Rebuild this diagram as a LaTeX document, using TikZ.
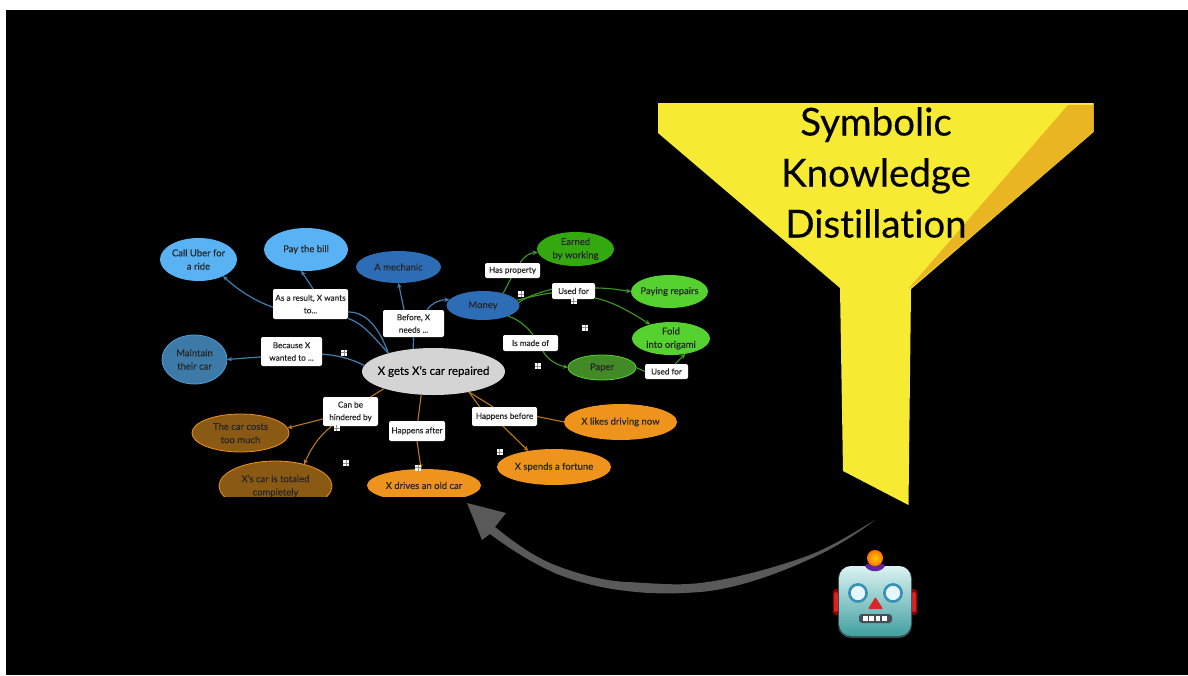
\documentclass[tikz,border=0pt]{standalone}
\usepackage{fontspec}
\setmainfont[Ligatures=NoCommon,FakeBold=0.12]{Lato}
\newfontfamily\titlefont[Ligatures=NoCommon,FakeBold=0.3]{Lato}
\usetikzlibrary{arrows.meta,shapes.geometric}
\definecolor{lblue}{HTML}{58B2F4}
\definecolor{mblue}{HTML}{2C6DB5}
\definecolor{sblue}{HTML}{3D7AA8}
\definecolor{edgeblue}{HTML}{3F7FB0}
\definecolor{dgreen}{HTML}{33A80F}
\definecolor{lgreen}{HTML}{55D22F}
\definecolor{pgreen}{HTML}{418A26}
\definecolor{edgegreen}{HTML}{3F9A24}
\definecolor{orangeA}{HTML}{EE931C}
\definecolor{brownA}{HTML}{8A5A14}
\definecolor{edgebrown}{HTML}{B87A1C}
\definecolor{funnel}{HTML}{F7EA33}
\definecolor{funnelb}{HTML}{E9B522}
\tikzset{
 x=1pt,y=-1pt,
 topic/.style={ellipse,inner sep=-20pt,outer sep=0pt,align=center,font=\fontsize{9.5}{13.3}\selectfont,text=#1},
 topic/.default=black!85,
 lab/.style={fill=white,rounded corners=2pt,align=center,inner sep=0pt,outer sep=0pt,font=\fontsize{8.2}{12.5}\selectfont,text=black!85},
 blueedge/.style={draw=edgeblue,line width=1.2pt},
 greenedge/.style={draw=edgegreen,line width=1.1pt},
 brownedge/.style={draw=edgebrown,line width=1.1pt},
 tipb/.style={-{Stealth[length=5pt,width=4.5pt]}},
 plusbox/.style={fill=white,minimum size=6pt,inner sep=0pt,path picture={\draw[black!45,line width=.45pt] (path picture bounding box.west)--(path picture bounding box.east) (path picture bounding box.north)--(path picture bounding box.south);}},
}
\begin{document}
\begin{tikzpicture}
\useasboundingbox (0,0) rectangle (1188,675);
\fill[white] (0,0) rectangle (1188,675);
\fill[black] (6,10) rectangle (1188,675);
% funnel
\fill[funnel] (658,103) -- (1093.5,103) -- (1093.5,132) -- (911,289) -- (908.5,505) -- (843,471) -- (840,288) -- (658,133) -- cycle;
\fill[funnelb] (1068,105) -- (1093.5,105) -- (1093.5,132) -- (913,286) -- (909,288) -- cycle;
\node[font=\titlefont\fontsize{38.5}{51}\selectfont,align=center,text=black,inner sep=0pt] (title) at (876,172.5) {Symbolic\\Knowledge\\Distillation};
% grey arrow
\fill[black!65] (467,503) -- (506,513) -- (495,527)
 .. controls (515,543) and (535,558) .. (560,567)
 .. controls (582,575) and (605,581) .. (627,582)
 .. controls (652,583) and (675,586) .. (700,583)
 .. controls (735,579) and (780,566) .. (810,555)
 .. controls (835,545) and (858,530) .. (875,520)
 .. controls (858,533) and (835,548) .. (810,559)
 .. controls (775,575) and (735,589) .. (700,592)
 .. controls (675,594) and (650,594) .. (627,591)
 .. controls (600,588) and (578,582) .. (557,574)
 .. controls (532,563) and (510,549) .. (490,534)
 -- (482,540) -- cycle;
% nodes
\node[fill=black!17,minimum width=143,minimum height=47,topic=black,font=\fontsize{11.5}{14}\selectfont] (root) at (433.5,371.5) {X gets X's car repaired};
\node[minimum width=77,minimum height=43,fill=lblue,topic] (uber) at (198.5,259.5) {Call Uber for\\a ride};
\node[minimum width=84,minimum height=43,fill=lblue,topic] (bill) at (306,249.5) {Pay the bill};
\node[minimum width=85,minimum height=32,fill=mblue,topic] (mech) at (398.5,267) {A mechanic};
\node[minimum width=65,minimum height=49,fill=sblue,draw=lblue!60!sblue,line width=.8pt,topic] (maint) at (194.5,359.5) {Maintain\\their car};
\node[minimum width=73,minimum height=29,fill=mblue,topic] (money) at (483,305.5) {Money};
\node[minimum width=77,minimum height=34,fill=dgreen,topic] (earned) at (575.5,249) {Earned\\by working};
\node[minimum width=77,minimum height=33,fill=lgreen,topic] (paying) at (669.5,291.5) {Paying repairs};
\node[minimum width=78,minimum height=33,fill=lgreen,topic] (fold) at (671,338.5) {Fold\\into origami};
\node[minimum width=68,minimum height=25,fill=pgreen,draw=lgreen,line width=.8pt,topic] (paper) at (602,367.5) {Paper};
\node[minimum width=113,minimum height=36,fill=orangeA,topic] (likes) at (620.5,422) {X likes driving now};
\node[minimum width=114,minimum height=36,fill=orangeA,topic] (spends) at (554,467) {X spends a fortune};
\node[minimum width=97,minimum height=38,fill=brownA,draw=orangeA,line width=.8pt,topic] (costs) at (240.5,433) {The car costs\\too much};
\begin{scope}
\clip (200,450) rectangle (500,496.5);
\node[minimum width=113,minimum height=50,fill=brownA,draw=orangeA,line width=.8pt,topic] (total) at (275.5,486) {X's car is totaled\\completely};
\node[minimum width=114,minimum height=33,fill=orangeA,topic] (old) at (424,485.5) {X drives an old car};
\end{scope}
% labels
\node[lab,minimum width=75,minimum height=30] (l1) at (310.5,304) {As a result, X wants\\to...};
\node[lab,minimum width=61,minimum height=29] (l2) at (291.5,351.5) {Because X\\wanted to ...};
\node[lab,minimum width=61,minimum height=27] (l3) at (413.5,323.5) {Before, X\\needs ...};
\node[lab,minimum width=55,minimum height=15] (l4) at (512.5,270.5) {Has property};
\node[lab,minimum width=43,minimum height=16] (l5) at (573.5,291) {Used for};
\node[lab,minimum width=55,minimum height=16] (l6) at (530.5,343) {Is made of};
\node[lab,minimum width=43,minimum height=15] (l7) at (666.5,371.5) {Used for};
\node[lab,minimum width=55,minimum height=29] (l8) at (350.5,411.5) {Can be\\hindered by};
\node[lab,minimum width=56,minimum height=20] (l9) at (417,431) {Happens after};
\node[lab,minimum width=65,minimum height=19] (l10) at (504.5,416.5) {Happens before};
% edges
\draw[blueedge] (root.158) .. controls (378,325) and (365,312) .. (l1.-12);
\draw[blueedge] (root.158) .. controls (372,335) and (362,323) .. (l1.-21.5);
\draw[blueedge,tipb] (l1.185) .. controls (255,301) and (238,290) .. (uber.-34);
\draw[blueedge,tipb] (l1.80) -- (bill.257);
\draw[blueedge] (root.175) .. controls (350,358) and (335,355) .. (l2.-5);
\draw[blueedge,tipb] (l2.190) -- (maint.east);
\draw[blueedge] (root.132) -- (l3.south);
\draw[blueedge,tipb] (l3.125) -- (mech.south);
\draw[blueedge,tipb] (l3.45) .. controls (432,303) and (438,300) .. (money.170);
\draw[greenedge] (money.31) -- (l4.-100);
\draw[greenedge,tipb] (l4.45) .. controls (524,256) and (530,253) .. (earned.185);
\draw[greenedge] (money.9) .. controls (530,297) and (542,294) .. (l5.185);
\draw[greenedge] (money.5) .. controls (530,295) and (542,292) .. (l5.175);
\draw[greenedge,tipb] (l5.8) .. controls (610,288) and (620,290) .. (paying.west);
\draw[greenedge,tipb] (l5.-18) .. controls (615,302) and (635,315) .. (fold.146);
\draw[greenedge] (money.-23) .. controls (520,320) and (528,328) .. (l6.72);
\draw[greenedge,tipb] (l6.-33) .. controls (548,360) and (557,365) .. (paper.west);
\draw[greenedge] (paper.east) -- (l7.west);
\draw[greenedge,tipb] (l7.41) -- (fold.-47.5);
\draw[brownedge] (root.-161) -- (l8.36.6);
\draw[brownedge,tipb] (l8.195) -- (costs.6);
\draw[brownedge,tipb] (l8.218) .. controls (320,435) and (311,448) .. (total.37);
\draw[brownedge] (root.242) -- (l9.85);
\draw[brownedge,tipb] (l9.south) -- (old.100);
\draw[brownedge] (root.-30) -- (l10.140);
\draw[brownedge] (root.-30) -- (l10.159);
\draw[brownedge] (l10.east) -- (likes.west);
\draw[brownedge,tipb] (l10.-100) -- (spends.148);
% plus boxes
\node[plusbox] (p1) at (344,352.5) {};
\node[plusbox] (p2) at (521,294) {};
\node[plusbox] (p3) at (573.5,301) {};
\node[plusbox] (p4) at (585,327.5) {};
\node[plusbox] (p5) at (537.5,366) {};
\node[plusbox] (p6) at (336.5,428) {};
\node[plusbox] (p7) at (346,463) {};
\node[plusbox] (p8) at (418,467.5) {};
\node[plusbox] (p9) at (499.5,452) {};
% robot
\fill[red!55!black,rounded corners=3pt] (833,589) rectangle (845,615);
\fill[red!55!black,rounded corners=3pt] (905,589) rectangle (917,615);
\fill[red!75!gray,rounded corners=2pt] (834,592) rectangle (838,612);
\fill[red!75!gray,rounded corners=2pt] (912,592) rectangle (916,612);
\fill[black!60!cyan!50!black,rounded corners=13pt] (838,566) rectangle (912,638);
\shade[top color=cyan!10!white!90!gray,middle color=cyan!25!gray!50,bottom color=cyan!50!black!75,rounded corners=12pt] (839,566) rectangle (911,636);
\fill[violet!65!blue!70!gray] (865,566) .. controls (867,562) and (883,562) .. (885,566) .. controls (881,573) and (869,573) .. (865,566) -- cycle;
\shade[inner color=yellow!60!orange,outer color=orange!90!red] (875,558) circle (8);
\draw[cyan!70!black,line width=2.6pt,fill=white!90!cyan] (858,593) circle (8.6);
\draw[cyan!70!black,line width=2.6pt,fill=white!90!cyan] (893,593) circle (8.6);
\fill[red!70!gray,rounded corners=1pt] (875.5,597) -- (883,609) -- (868,609) -- cycle;
\fill[black!75!cyan,rounded corners=3pt] (859,614) rectangle (892,623);
\foreach \g in {865.5,871.5,878,884.5}{\fill[white] (\g-2.4,616) rectangle (\g+2.4,621);}
\end{tikzpicture}
\end{document}
